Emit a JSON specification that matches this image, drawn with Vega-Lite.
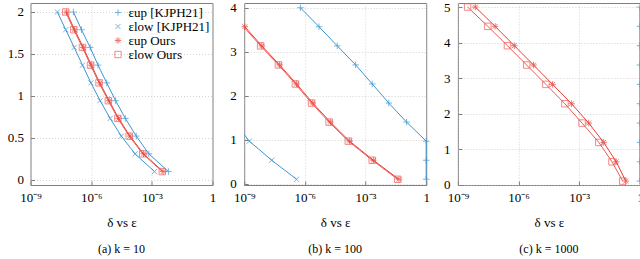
{
  "$schema": "https://vega.github.io/schema/vega-lite/v6.json",
  "padding": {"left": 6.5, "top": 0, "right": 0, "bottom": 0},
  "spacing": 31.7,
  "bounds": "flush",
  "config": {
    "font": "Liberation Serif",
    "view": {"stroke": "#7f7f7f", "strokeWidth": 1},
    "axis": {
      "labelFont": "Liberation Serif", "labelFontSize": 13, "labelColor": "black",
      "titleFont": "Liberation Serif", "titleFontSize": 13, "titleFontWeight": "normal", "titleColor": "black",
      "domain": false, "ticks": true, "tickSize": -4, "tickColor": "#7f7f7f",
      "grid": true, "gridColor": "#c8c8c8", "gridDash": [1, 2], "gridWidth": 0.8
    },
    "legend": {
      "labelFont": "Liberation Serif", "labelFontSize": 13, "labelColor": "black", "labelLimit": 200
    },
    "title": {"font": "Liberation Serif", "fontSize": 12, "fontWeight": "normal", "color": "black", "orient": "bottom", "anchor": "middle"}
  },
  "resolve": {"legend": {"color": "independent", "shape": "independent"}},
  "datasets": {
    "pts": [
      {"p": "a", "s": "εup [KJPH21]", "e": 0.1, "d": 6.61e-3},
      {"p": "a", "s": "εup [KJPH21]", "e": 0.311, "d": 7.08e-4},
      {"p": "a", "s": "εup [KJPH21]", "e": 0.522, "d": 1.70e-4},
      {"p": "a", "s": "εup [KJPH21]", "e": 0.733, "d": 4.90e-5},
      {"p": "a", "s": "εup [KJPH21]", "e": 0.944, "d": 1.62e-5},
      {"p": "a", "s": "εup [KJPH21]", "e": 1.156, "d": 5.89e-6},
      {"p": "a", "s": "εup [KJPH21]", "e": 1.367, "d": 2.19e-6},
      {"p": "a", "s": "εup [KJPH21]", "e": 1.578, "d": 8.91e-7},
      {"p": "a", "s": "εup [KJPH21]", "e": 1.789, "d": 3.31e-7},
      {"p": "a", "s": "εup [KJPH21]", "e": 2.0, "d": 1.32e-7},
      {"p": "a", "s": "εlow [KJPH21]", "e": 0.1, "d": 1.35e-3},
      {"p": "a", "s": "εlow [KJPH21]", "e": 0.311, "d": 1.48e-4},
      {"p": "a", "s": "εlow [KJPH21]", "e": 0.522, "d": 3.09e-5},
      {"p": "a", "s": "εlow [KJPH21]", "e": 0.733, "d": 8.71e-6},
      {"p": "a", "s": "εlow [KJPH21]", "e": 0.944, "d": 2.75e-6},
      {"p": "a", "s": "εlow [KJPH21]", "e": 1.156, "d": 9.77e-7},
      {"p": "a", "s": "εlow [KJPH21]", "e": 1.367, "d": 3.72e-7},
      {"p": "a", "s": "εlow [KJPH21]", "e": 1.578, "d": 1.45e-7},
      {"p": "a", "s": "εlow [KJPH21]", "e": 1.789, "d": 5.50e-8},
      {"p": "a", "s": "εlow [KJPH21]", "e": 2.0, "d": 2.14e-8},
      {"p": "a", "s": "εup Ours", "e": 0.1, "d": 3.63e-3},
      {"p": "a", "s": "εup Ours", "e": 0.311, "d": 3.89e-4},
      {"p": "a", "s": "εup Ours", "e": 0.522, "d": 8.32e-5},
      {"p": "a", "s": "εup Ours", "e": 0.733, "d": 2.29e-5},
      {"p": "a", "s": "εup Ours", "e": 0.944, "d": 7.76e-6},
      {"p": "a", "s": "εup Ours", "e": 1.156, "d": 2.69e-6},
      {"p": "a", "s": "εup Ours", "e": 1.367, "d": 1.02e-6},
      {"p": "a", "s": "εup Ours", "e": 1.578, "d": 4.07e-7},
      {"p": "a", "s": "εup Ours", "e": 1.789, "d": 1.51e-7},
      {"p": "a", "s": "εup Ours", "e": 2.0, "d": 6.03e-8},
      {"p": "a", "s": "εlow Ours", "e": 0.1, "d": 3.31e-3},
      {"p": "a", "s": "εlow Ours", "e": 0.311, "d": 3.55e-4},
      {"p": "a", "s": "εlow Ours", "e": 0.522, "d": 7.59e-5},
      {"p": "a", "s": "εlow Ours", "e": 0.733, "d": 2.09e-5},
      {"p": "a", "s": "εlow Ours", "e": 0.944, "d": 7.08e-6},
      {"p": "a", "s": "εlow Ours", "e": 1.156, "d": 2.45e-6},
      {"p": "a", "s": "εlow Ours", "e": 1.367, "d": 9.33e-7},
      {"p": "a", "s": "εlow Ours", "e": 1.578, "d": 3.72e-7},
      {"p": "a", "s": "εlow Ours", "e": 1.789, "d": 1.38e-7},
      {"p": "a", "s": "εlow Ours", "e": 2.0, "d": 5.50e-8},

      {"p": "b", "s": "εup [KJPH21]", "e": 0.1, "d": 1},
      {"p": "b", "s": "εup [KJPH21]", "e": 0.533, "d": 1},
      {"p": "b", "s": "εup [KJPH21]", "e": 0.967, "d": 1},
      {"p": "b", "s": "εup [KJPH21]", "e": 1.4, "d": 0.107},
      {"p": "b", "s": "εup [KJPH21]", "e": 1.833, "d": 1.41e-2},
      {"p": "b", "s": "εup [KJPH21]", "e": 2.267, "d": 2.14e-3},
      {"p": "b", "s": "εup [KJPH21]", "e": 2.7, "d": 3.24e-4},
      {"p": "b", "s": "εup [KJPH21]", "e": 3.133, "d": 3.98e-5},
      {"p": "b", "s": "εup [KJPH21]", "e": 3.567, "d": 5.01e-6},
      {"p": "b", "s": "εup [KJPH21]", "e": 4.0, "d": 6.03e-7},
      {"p": "b", "s": "εlow [KJPH21]", "e": 0.1, "d": 3.89e-7},
      {"p": "b", "s": "εlow [KJPH21]", "e": 0.533, "d": 2.29e-8},
      {"p": "b", "s": "εlow [KJPH21]", "e": 0.967, "d": 1.78e-9},
      {"p": "b", "s": "εlow [KJPH21]", "e": 1.4, "d": 3.47e-10},
      {"p": "b", "s": "εup Ours", "e": 0.1, "d": 4.47e-2},
      {"p": "b", "s": "εup Ours", "e": 0.533, "d": 2.45e-3},
      {"p": "b", "s": "εup Ours", "e": 0.967, "d": 1.62e-4},
      {"p": "b", "s": "εup Ours", "e": 1.4, "d": 1.82e-5},
      {"p": "b", "s": "εup Ours", "e": 1.833, "d": 2.45e-6},
      {"p": "b", "s": "εup Ours", "e": 2.267, "d": 3.89e-7},
      {"p": "b", "s": "εup Ours", "e": 2.7, "d": 5.62e-8},
      {"p": "b", "s": "εup Ours", "e": 3.133, "d": 7.41e-9},
      {"p": "b", "s": "εup Ours", "e": 3.567, "d": 1.07e-9},
      {"p": "b", "s": "εup Ours", "e": 4.0, "d": 1.41e-10},
      {"p": "b", "s": "εlow Ours", "e": 0.1, "d": 3.89e-2},
      {"p": "b", "s": "εlow Ours", "e": 0.533, "d": 2.14e-3},
      {"p": "b", "s": "εlow Ours", "e": 0.967, "d": 1.41e-4},
      {"p": "b", "s": "εlow Ours", "e": 1.4, "d": 1.58e-5},
      {"p": "b", "s": "εlow Ours", "e": 1.833, "d": 2.14e-6},
      {"p": "b", "s": "εlow Ours", "e": 2.267, "d": 3.39e-7},
      {"p": "b", "s": "εlow Ours", "e": 2.7, "d": 4.90e-8},
      {"p": "b", "s": "εlow Ours", "e": 3.133, "d": 6.46e-9},
      {"p": "b", "s": "εlow Ours", "e": 3.567, "d": 9.33e-10},
      {"p": "b", "s": "εlow Ours", "e": 4.0, "d": 1.23e-10},

      {"p": "c", "s": "εup [KJPH21]", "e": 0.1, "d": 1},
      {"p": "c", "s": "εup [KJPH21]", "e": 0.644, "d": 1},
      {"p": "c", "s": "εup [KJPH21]", "e": 1.189, "d": 1},
      {"p": "c", "s": "εup [KJPH21]", "e": 1.733, "d": 1},
      {"p": "c", "s": "εup [KJPH21]", "e": 2.278, "d": 1},
      {"p": "c", "s": "εup [KJPH21]", "e": 2.822, "d": 1},
      {"p": "c", "s": "εup [KJPH21]", "e": 3.367, "d": 1},
      {"p": "c", "s": "εup [KJPH21]", "e": 3.911, "d": 1},
      {"p": "c", "s": "εup [KJPH21]", "e": 4.456, "d": 1},
      {"p": "c", "s": "εup [KJPH21]", "e": 5.0, "d": 1},
      {"p": "c", "s": "εup Ours", "e": 0.1, "d": 0.200},
      {"p": "c", "s": "εup Ours", "e": 0.644, "d": 6.76e-2},
      {"p": "c", "s": "εup Ours", "e": 1.189, "d": 1.62e-2},
      {"p": "c", "s": "εup Ours", "e": 1.733, "d": 2.95e-3},
      {"p": "c", "s": "εup Ours", "e": 2.278, "d": 4.17e-4},
      {"p": "c", "s": "εup Ours", "e": 2.822, "d": 4.79e-5},
      {"p": "c", "s": "εup Ours", "e": 3.367, "d": 5.50e-6},
      {"p": "c", "s": "εup Ours", "e": 3.911, "d": 6.17e-7},
      {"p": "c", "s": "εup Ours", "e": 4.456, "d": 6.92e-8},
      {"p": "c", "s": "εup Ours", "e": 5.0, "d": 7.24e-9},
      {"p": "c", "s": "εlow Ours", "e": 0.1, "d": 0.141},
      {"p": "c", "s": "εlow Ours", "e": 0.644, "d": 4.17e-2},
      {"p": "c", "s": "εlow Ours", "e": 1.189, "d": 9.33e-3},
      {"p": "c", "s": "εlow Ours", "e": 1.733, "d": 1.38e-3},
      {"p": "c", "s": "εlow Ours", "e": 2.278, "d": 1.95e-4},
      {"p": "c", "s": "εlow Ours", "e": 2.822, "d": 2.24e-5},
      {"p": "c", "s": "εlow Ours", "e": 3.367, "d": 2.51e-6},
      {"p": "c", "s": "εlow Ours", "e": 3.911, "d": 2.82e-7},
      {"p": "c", "s": "εlow Ours", "e": 4.456, "d": 3.02e-8},
      {"p": "c", "s": "εlow Ours", "e": 5.0, "d": 3.02e-9}
    ]
  },
  "hconcat": [
    {
      "width": 182, "height": 182,
      "data": {"name": "pts"},
      "transform": [{"filter": "datum.p == 'a'"}],
      "title": {"text": "(a) k = 10", "offset": 15},
      "encoding": {
        "x": {"field": "d", "type": "quantitative", "title": "δ vs ε",
              "scale": {"type": "log", "domain": [1e-9, 1], "nice": false},
              "axis": {"values": [1e-9, 1e-6, 1e-3, 1], "labelPadding": 10, "titlePadding": 12, "labelFlush": false,
                       "labelExpr": "datum.value >= 0.5 ? '1' : datum.value < 1e-8 ? '10⁻⁹' : datum.value < 1e-5 ? '10⁻⁶' : '10⁻³'"}},
        "y": {"field": "e", "type": "quantitative", "title": null,
              "scale": {"domain": [-0.06, 2.107], "nice": false, "zero": false},
              "axis": {"values": [0, 0.5, 1, 1.5, 2], "format": "~g", "labelPadding": 11}},
        "color": {"field": "s", "type": "nominal",
                  "scale": {"domain": ["εup [KJPH21]", "εlow [KJPH21]", "εup Ours", "εlow Ours"], "range": ["#3b96d1", "#3b96d1", "#e8403a", "#ee5a54"]},
                  "legend": {"title": null, "orient": "top-right", "offset": 3, "rowPadding": 0, "symbolStrokeWidth": 1, "labelFontSize": 13, "symbolSize": 40}},
        "order": {"field": "e", "type": "quantitative"}
      },
      "layer": [
        {"transform": [{"filter": "datum.s != 'εup [KJPH21]'"}], "mark": {"type": "line", "clip": true, "strokeWidth": 1}},
        {"transform": [{"filter": "datum.s == 'εup [KJPH21]'"}], "mark": {"type": "line", "clip": false, "strokeWidth": 1}},
        {"transform": [{"filter": "datum.d >= 1e-9"}],
         "mark": {"type": "point", "clip": false, "filled": false, "strokeWidth": 1, "size": 42},
         "encoding": {"shape": {"field": "s", "type": "nominal",
           "scale": {"domain": ["εup [KJPH21]", "εlow [KJPH21]", "εup Ours", "εlow Ours"],
                     "range": ["M-1,0H1M0,-1V1", "M-0.8,-0.8L0.8,0.8M-0.8,0.8L0.8,-0.8", "M-1,0H1M0,-1V1M-0.75,-0.75L0.75,0.75M-0.75,0.75L0.75,-0.75", "square"]},
           "legend": {"title": null, "orient": "top-right", "offset": 3, "rowPadding": 0, "labelFontSize": 13, "symbolSize": 40}}}}
      ]
    },
    {
      "width": 182, "height": 182,
      "data": {"name": "pts"},
      "transform": [{"filter": "datum.p == 'b'"}],
      "title": {"text": "(b) k = 100", "offset": 15},
      "encoding": {
        "x": {"field": "d", "type": "quantitative", "title": "δ vs ε",
              "scale": {"type": "log", "domain": [1e-9, 1], "nice": false},
              "axis": {"values": [1e-9, 1e-6, 1e-3, 1], "labelPadding": 10, "titlePadding": 12, "labelFlush": false,
                       "labelExpr": "datum.value >= 0.5 ? '1' : datum.value < 1e-8 ? '10⁻⁹' : datum.value < 1e-5 ? '10⁻⁶' : '10⁻³'"}},
        "y": {"field": "e", "type": "quantitative", "title": null,
              "scale": {"domain": [-0.03, 4.107], "nice": false, "zero": false},
              "axis": {"values": [0, 1, 2, 3, 4], "format": "~g", "labelPadding": 12}},
        "color": {"field": "s", "type": "nominal",
                  "scale": {"domain": ["εup [KJPH21]", "εlow [KJPH21]", "εup Ours", "εlow Ours"], "range": ["#3b96d1", "#3b96d1", "#e8403a", "#ee5a54"]},
                  "legend": null},
        "order": {"field": "e", "type": "quantitative"}
      },
      "layer": [
        {"transform": [{"filter": "datum.s != 'εup [KJPH21]'"}], "mark": {"type": "line", "clip": true, "strokeWidth": 1}},
        {"transform": [{"filter": "datum.s == 'εup [KJPH21]'"}], "mark": {"type": "line", "clip": false, "strokeWidth": 1}},
        {"transform": [{"filter": "datum.d >= 1e-9"}],
         "mark": {"type": "point", "clip": false, "filled": false, "strokeWidth": 1, "size": 42},
         "encoding": {"shape": {"field": "s", "type": "nominal",
           "scale": {"domain": ["εup [KJPH21]", "εlow [KJPH21]", "εup Ours", "εlow Ours"],
                     "range": ["M-1,0H1M0,-1V1", "M-0.8,-0.8L0.8,0.8M-0.8,0.8L0.8,-0.8", "M-1,0H1M0,-1V1M-0.75,-0.75L0.75,0.75M-0.75,0.75L0.75,-0.75", "square"]},
           "legend": null}}}
      ]
    },
    {
      "width": 182, "height": 182,
      "data": {"name": "pts"},
      "transform": [{"filter": "datum.p == 'c'"}],
      "title": {"text": "(c) k = 1000", "offset": 15},
      "encoding": {
        "x": {"field": "d", "type": "quantitative", "title": "δ vs ε",
              "scale": {"type": "log", "domain": [1e-9, 1], "nice": false},
              "axis": {"values": [1e-9, 1e-6, 1e-3, 1], "labelPadding": 10, "titlePadding": 12, "labelFlush": false,
                       "labelExpr": "datum.value >= 0.5 ? '1' : datum.value < 1e-8 ? '10⁻⁹' : datum.value < 1e-5 ? '10⁻⁶' : '10⁻³'"}},
        "y": {"field": "e", "type": "quantitative", "title": null,
              "scale": {"domain": [-0.01, 5.113], "nice": false, "zero": false},
              "axis": {"values": [0, 1, 2, 3, 4, 5], "format": "~g", "labelPadding": 12}},
        "color": {"field": "s", "type": "nominal",
                  "scale": {"domain": ["εup [KJPH21]", "εlow [KJPH21]", "εup Ours", "εlow Ours"], "range": ["#3b96d1", "#3b96d1", "#e8403a", "#ee5a54"]},
                  "legend": null},
        "order": {"field": "e", "type": "quantitative"}
      },
      "layer": [
        {"transform": [{"filter": "datum.s != 'εup [KJPH21]'"}], "mark": {"type": "line", "clip": true, "strokeWidth": 1}},
        {"transform": [{"filter": "datum.s == 'εup [KJPH21]'"}], "mark": {"type": "line", "clip": false, "strokeWidth": 1}},
        {"transform": [{"filter": "datum.d >= 1e-9"}],
         "mark": {"type": "point", "clip": false, "filled": false, "strokeWidth": 1, "size": 42},
         "encoding": {"shape": {"field": "s", "type": "nominal",
           "scale": {"domain": ["εup [KJPH21]", "εlow [KJPH21]", "εup Ours", "εlow Ours"],
                     "range": ["M-1,0H1M0,-1V1", "M-0.8,-0.8L0.8,0.8M-0.8,0.8L0.8,-0.8", "M-1,0H1M0,-1V1M-0.75,-0.75L0.75,0.75M-0.75,0.75L0.75,-0.75", "square"]},
           "legend": null}}}
      ]
    }
  ]
}
